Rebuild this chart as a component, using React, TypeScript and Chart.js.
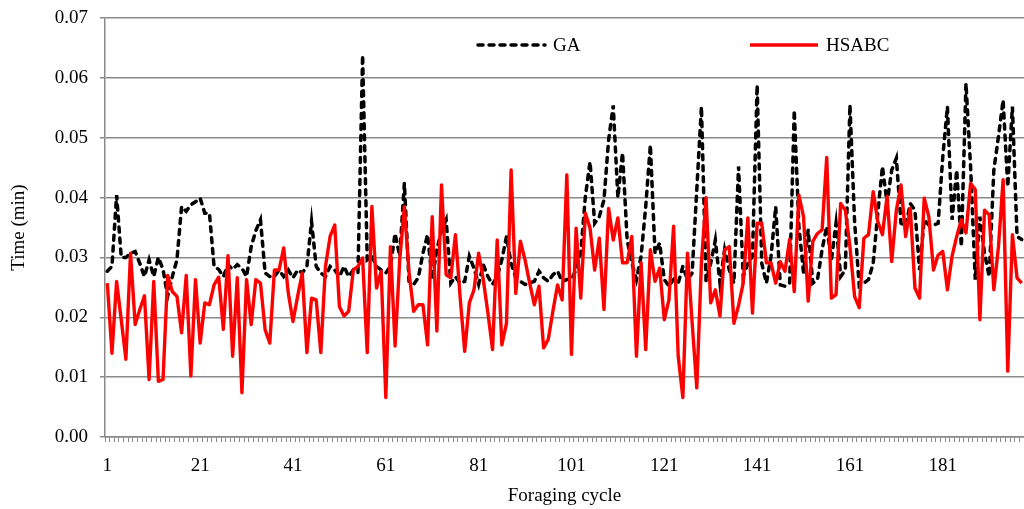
import React, { useEffect, useRef } from 'react';
import { Chart, registerables } from 'chart.js';

Chart.register(...registerables);

// Foraging cycles 1..198 visible in the reference (the plot is cut at the right edge)
const cycles: string[] = Array.from({ length: 198 }, (_, i) => String(i + 1));
const shownTickLabels = ['1', '21', '41', '61', '81', '101', '121', '141', '161', '181'];
const yTickValues = [0, 0.01, 0.02, 0.03, 0.04, 0.05, 0.06, 0.07];

const gaTime = [
  0.0277, 0.0285, 0.0404, 0.030, 0.030, 0.0307, 0.031, 0.029, 0.0268, 0.0296,
  0.0268, 0.030, 0.028, 0.0235, 0.0268, 0.0296, 0.0385, 0.0377, 0.0388, 0.0393,
  0.0399, 0.0374, 0.0374, 0.0285, 0.028, 0.0268, 0.0288, 0.028, 0.0288, 0.0282,
  0.0268, 0.0318, 0.0345, 0.0363, 0.0274, 0.0268, 0.0268, 0.0279, 0.0268, 0.0279,
  0.0266, 0.0279, 0.0274, 0.0285, 0.036, 0.0285, 0.0274, 0.0268, 0.0285, 0.0279,
  0.0268, 0.0285, 0.0268, 0.0279, 0.0274, 0.0638, 0.0296, 0.0302, 0.0285, 0.0279,
  0.0274, 0.0285, 0.034, 0.0302, 0.0424, 0.026, 0.0255, 0.0266, 0.0307, 0.0338,
  0.0263, 0.0313, 0.0345, 0.0363, 0.0257, 0.0268, 0.0257, 0.026, 0.0302, 0.0282,
  0.0255, 0.0288, 0.0268, 0.0255, 0.0268, 0.0296, 0.0335, 0.029, 0.0266, 0.026,
  0.0255, 0.0257, 0.026, 0.0277, 0.0266, 0.026, 0.0271, 0.0277, 0.026, 0.0263,
  0.0263, 0.028, 0.0307, 0.0402, 0.046, 0.0357, 0.0368, 0.0396, 0.0496, 0.0554,
  0.040, 0.0475, 0.0329, 0.0291, 0.0263, 0.0302, 0.0385, 0.0488, 0.0307, 0.0324,
  0.0263, 0.0252, 0.0263, 0.0257, 0.0285, 0.0263, 0.0274, 0.0413, 0.0552, 0.026,
  0.029, 0.0329, 0.0257, 0.0313, 0.0279, 0.0257, 0.0452, 0.0268, 0.029, 0.0302,
  0.0588, 0.029, 0.0257, 0.0302, 0.0385, 0.0254, 0.0252, 0.0257, 0.0546, 0.0352,
  0.0274, 0.0346, 0.0257, 0.0263, 0.0313, 0.0352, 0.0296, 0.0357, 0.0268, 0.0279,
  0.0555, 0.036, 0.0252, 0.0257, 0.0263, 0.029, 0.0374, 0.0452, 0.039, 0.0446,
  0.0466, 0.0357, 0.0352, 0.039, 0.0379, 0.0279, 0.0363, 0.0354, 0.0354, 0.0357,
  0.0468, 0.0552, 0.0363, 0.0446, 0.0318, 0.0591, 0.045, 0.0263, 0.0368, 0.0307,
  0.0268, 0.0446, 0.0502, 0.0563, 0.0418, 0.0552, 0.0335, 0.033,
];

const hsabcTime = [
  0.0257, 0.014, 0.026, 0.0196, 0.013, 0.0307, 0.0188, 0.0213, 0.0236, 0.0096,
  0.026, 0.0093, 0.0096, 0.027, 0.0243, 0.0235, 0.0174, 0.027, 0.0102, 0.0263,
  0.0157, 0.0224, 0.0221, 0.0254, 0.0267, 0.018, 0.0303, 0.0135, 0.0266, 0.0074,
  0.0263, 0.0188, 0.0263, 0.0257, 0.0179, 0.0157, 0.0279, 0.0279, 0.0316, 0.024,
  0.0193, 0.0235, 0.0274, 0.0141, 0.0232, 0.0229, 0.0141, 0.0285, 0.0335, 0.0354,
  0.0218, 0.0202, 0.021, 0.0279, 0.0285, 0.0299, 0.0141, 0.0385, 0.0249, 0.0277,
  0.0066, 0.0318, 0.0152, 0.0296, 0.0385, 0.0275, 0.021, 0.0221, 0.0221, 0.0154,
  0.0368, 0.0177, 0.0421, 0.0271, 0.0266, 0.0338, 0.0235, 0.0143, 0.0224, 0.0246,
  0.0307, 0.0263, 0.0207, 0.0146, 0.0329, 0.0154, 0.019, 0.0446, 0.024, 0.0327,
  0.0296, 0.0257, 0.0221, 0.0252, 0.0149, 0.0163, 0.021, 0.0254, 0.0229, 0.0438,
  0.0138, 0.0349, 0.0232, 0.0374, 0.0349, 0.0279, 0.0332, 0.0213, 0.0382, 0.0329,
  0.0366, 0.0291, 0.0291, 0.0335, 0.0135, 0.0291, 0.0146, 0.0313, 0.026, 0.0282,
  0.0196, 0.0229, 0.0352, 0.0135, 0.0066, 0.0307, 0.0191, 0.0082, 0.0291, 0.040,
  0.0224, 0.0246, 0.0202, 0.0313, 0.0318, 0.019, 0.022, 0.0257, 0.0366, 0.0207,
  0.0357, 0.0357, 0.0291, 0.0291, 0.0257, 0.0293, 0.0277, 0.033, 0.0243, 0.0404,
  0.0368, 0.0227, 0.0327, 0.034, 0.0346, 0.0467, 0.0232, 0.0238, 0.039, 0.0379,
  0.0318, 0.0235, 0.0216, 0.0332, 0.0338, 0.041, 0.036, 0.0338, 0.0402, 0.0293,
  0.0379, 0.0421, 0.0335, 0.0382, 0.0249, 0.0232, 0.0399, 0.0368, 0.0279, 0.0304,
  0.031, 0.0246, 0.0302, 0.0335, 0.0363, 0.0341, 0.0424, 0.0413, 0.0196, 0.0379,
  0.0371, 0.0246, 0.0318, 0.043, 0.011, 0.0338, 0.0266, 0.0257,
];

const FONT_FAMILY = '"Liberation Serif", "Times New Roman", serif';
const GRID_COLOR = '#8a8a8a';
const W = 1024;
const H = 509;

const inlineLegend = {
  id: 'inlineLegend',
  afterDraw(chart: any) {
    const ctx = chart.ctx as CanvasRenderingContext2D;
    const slots = [
      { x0: 478, x1: 545, tx: 553 },
      { x0: 750, x1: 818, tx: 826 },
    ];
    const y = 45;
    chart.data.datasets.forEach((ds: any, i: number) => {
      const s = slots[i];
      if (!s) return;
      ctx.save();
      ctx.strokeStyle = ds.borderColor;
      ctx.lineWidth = ds.borderWidth;
      ctx.lineCap = ds.borderCapStyle || 'butt';
      ctx.setLineDash(ds.borderDash || []);
      ctx.beginPath();
      ctx.moveTo(s.x0, y);
      ctx.lineTo(s.x1, y);
      ctx.stroke();
      ctx.setLineDash([]);
      ctx.fillStyle = '#000';
      ctx.font = `19px ${FONT_FAMILY}`;
      ctx.textBaseline = 'middle';
      ctx.textAlign = 'left';
      ctx.fillText(ds.label, s.tx, y + 1);
      ctx.restore();
    });
  },
};

export default function App() {
  const canvasRef = useRef<HTMLCanvasElement | null>(null);

  useEffect(() => {
    if (!canvasRef.current) return;
    const chart = new Chart(canvasRef.current, {
      type: 'line',
      data: {
        labels: cycles,
        datasets: [
          {
            label: 'GA',
            data: gaTime,
            borderColor: '#000000',
            backgroundColor: '#000000',
            borderWidth: 3.5,
            borderDash: [5, 6],
            borderCapStyle: 'round',
            pointRadius: 0,
            tension: 0,
            order: 2,
          },
          {
            label: 'HSABC',
            data: hsabcTime,
            borderColor: '#ff0000',
            backgroundColor: '#ff0000',
            borderWidth: 3.4,
            borderJoinStyle: 'round',
            pointRadius: 0,
            tension: 0,
            order: 1,
          },
        ],
      },
      options: {
        animation: false,
        responsive: false,
        devicePixelRatio: 1,
        layout: { padding: { top: 18, left: 0, right: 0, bottom: 0 } },
        plugins: {
          legend: { display: false },
          tooltip: { enabled: false },
        },
        scales: {
          x: {
            type: 'category',
            offset: true,
            grid: {
              offset: true,
              drawOnChartArea: false,
              drawTicks: true,
              tickLength: 5,
              color: GRID_COLOR,
              lineWidth: 1,
            },
            border: { display: true, color: GRID_COLOR, width: 1.5 },
            ticks: {
              autoSkip: false,
              maxRotation: 0,
              minRotation: 0,
              padding: 13,
              color: '#000',
              font: { family: FONT_FAMILY, size: 19 },
              callback: (_v: any, idx: number) => {
                const lbl = cycles[idx];
                return shownTickLabels.includes(lbl) ? lbl : '';
              },
            },
            title: {
              display: true,
              text: 'Foraging cycle',
              color: '#000',
              font: { family: FONT_FAMILY, size: 19 },
              padding: { top: 0, bottom: 2 },
            },
            afterFit: (scale: any) => {
              scale.height = 72;
              scale.paddingLeft = 0;
              scale.paddingRight = 0;
            },
          },
          y: {
            min: 0,
            max: 0.07,
            afterBuildTicks: (scale: any) => {
              scale.ticks = yTickValues.map((v) => ({ value: v }));
            },
            grid: {
              color: GRID_COLOR,
              lineWidth: 1.5,
              drawTicks: true,
              tickLength: 5,
            },
            border: { display: true, color: GRID_COLOR, width: 1.5 },
            ticks: {
              padding: 12,
              color: '#000',
              font: { family: FONT_FAMILY, size: 19 },
              callback: (v: any) => Number(v).toFixed(2),
            },
            title: {
              display: true,
              text: 'Time (min)',
              color: '#000',
              font: { family: FONT_FAMILY, size: 19 },
              padding: { top: 8, bottom: 0 },
            },
            afterFit: (scale: any) => {
              scale.width = 105;
              scale.paddingTop = 0;
              scale.paddingBottom = 0;
            },
          },
        },
      },
      plugins: [inlineLegend],
    });
    return () => chart.destroy();
  }, []);

  return (
    <div style={{ position: 'absolute', left: 0, top: 0, width: W, height: H, overflow: 'hidden', background: '#fff' }}>
      <canvas ref={canvasRef} width={W} height={H} style={{ display: 'block', width: W, height: H }} />
    </div>
  );
}
